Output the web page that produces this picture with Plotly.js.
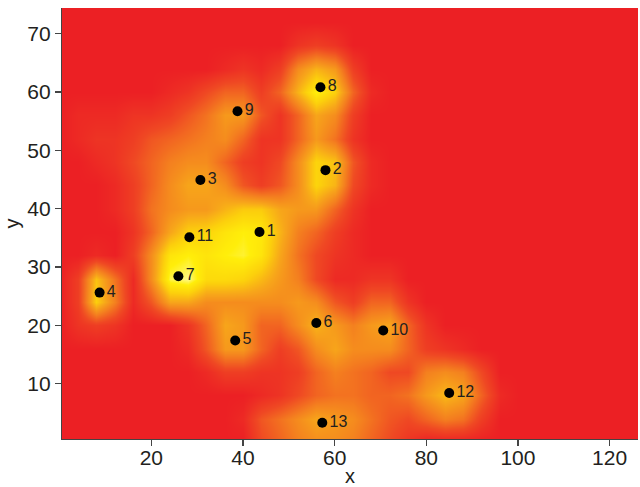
<!DOCTYPE html>
<html>
<head>
<meta charset="utf-8">
<script src="https://cdn.plot.ly/plotly-3.0.1.min.js"></script>
<style>html,body{margin:0;padding:0;background:#fff;}#chart{width:640px;height:487px;}</style>
</head>
<body>
<div id="chart"></div>
<script>
// Grid of the intensity surface (0 = red, 1 = pale yellow)
const gridX = [0,4,8,12,16,20,24,28,32,36,40,44,48,52,56,60,64,68,72,76,80,84,88,92,96,100,104,108,112,116,120,124,128];
const gridY = [0,4,8,12,16,20,24,28,32,36,40,44,48,52,56,60,64,68,72,76];
const zY0  = [0,0,0,0,0,0,0,0,0,0,0,0.2,0.3,0.4,0.45,0.45,0.4,0.3,0.2,0.1,0,0,0,0,0,0,0,0,0,0,0,0,0];
const zY4  = [0,0,0,0,0,0,0,0,0,0,0.05,0.25,0.35,0.45,0.55,0.5,0.45,0.35,0.25,0.2,0.3,0.4,0.35,0.15,0,0,0,0,0,0,0,0,0];
const zY8  = [0,0,0,0,0,0,0,0,0,0,0,0.05,0.1,0.2,0.3,0.35,0.35,0.3,0.3,0.35,0.5,0.62,0.55,0.3,0.05,0,0,0,0,0,0,0,0];
const zY12 = [0,0,0,0,0,0,0,0,0.05,0.15,0.15,0.1,0.1,0.15,0.3,0.4,0.35,0.3,0.2,0.2,0.4,0.45,0.4,0.2,0,0,0,0,0,0,0,0,0];
const zY16 = [0,0,0,0,0,0,0,0.05,0.25,0.5,0.5,0.3,0.15,0.25,0.45,0.55,0.45,0.45,0.45,0.3,0.15,0.1,0.05,0,0,0,0,0,0,0,0,0,0];
const zY20 = [0,0.1,0.15,0.1,0,0,0,0.1,0.3,0.55,0.5,0.3,0.3,0.45,0.6,0.5,0.4,0.5,0.55,0.3,0.1,0,0,0,0,0,0,0,0,0,0,0,0];
const zY24 = [0,0.15,0.7,0.4,0.05,0.25,0.55,0.55,0.45,0.45,0.45,0.45,0.45,0.5,0.45,0.25,0.15,0.3,0.3,0.1,0,0,0,0,0,0,0,0,0,0,0,0,0];
const zY28 = [0,0.15,0.65,0.35,0.05,0.45,0.9,0.95,0.75,0.75,0.72,0.62,0.5,0.4,0.2,0.05,0.05,0.1,0.1,0,0,0,0,0,0,0,0,0,0,0,0,0,0];
const zY32 = [0,0,0.05,0,0.15,0.45,0.8,0.85,0.8,0.85,0.88,0.8,0.55,0.35,0.2,0.1,0.05,0,0,0,0,0,0,0,0,0,0,0,0,0,0,0,0];
const zY36 = [0,0,0,0,0.1,0.3,0.55,0.7,0.72,0.8,0.85,0.82,0.6,0.4,0.3,0.15,0.05,0,0,0,0,0,0,0,0,0,0,0,0,0,0,0,0];
const zY40 = [0,0,0,0.05,0.15,0.35,0.45,0.5,0.5,0.6,0.68,0.68,0.55,0.5,0.5,0.3,0.1,0,0,0,0,0,0,0,0,0,0,0,0,0,0,0,0];
const zY44 = [0,0,0,0.05,0.15,0.3,0.45,0.55,0.55,0.45,0.25,0.15,0.25,0.45,0.72,0.6,0.2,0.05,0,0,0,0,0,0,0,0,0,0,0,0,0,0,0];
const zY48 = [0,0,0.05,0.1,0.2,0.3,0.4,0.45,0.45,0.3,0.15,0.1,0.2,0.45,0.72,0.65,0.25,0.05,0,0,0,0,0,0,0,0,0,0,0,0,0,0,0];
const zY52 = [0,0.05,0.1,0.1,0.15,0.25,0.3,0.35,0.4,0.45,0.3,0.1,0.1,0.3,0.5,0.35,0.1,0,0,0,0,0,0,0,0,0,0,0,0,0,0,0,0];
const zY56 = [0,0.05,0.05,0.05,0.1,0.1,0.15,0.25,0.35,0.5,0.5,0.25,0.1,0.3,0.55,0.45,0.15,0,0,0,0,0,0,0,0,0,0,0,0,0,0,0,0];
const zY60 = [0,0,0,0,0,0,0.05,0.1,0.2,0.3,0.3,0.15,0.3,0.6,0.85,0.7,0.3,0.05,0,0,0,0,0,0,0,0,0,0,0,0,0,0,0];
const zY64 = [0,0,0,0,0,0,0,0,0,0.05,0.1,0.05,0.15,0.45,0.6,0.5,0.15,0,0,0,0,0,0,0,0,0,0,0,0,0,0,0,0];
const zY68 = [0,0,0,0,0,0,0,0,0,0,0,0,0,0.1,0.15,0.1,0,0,0,0,0,0,0,0,0,0,0,0,0,0,0,0,0];
const zY72 = [0,0,0,0,0,0,0,0,0,0,0,0,0,0,0,0,0,0,0,0,0,0,0,0,0,0,0,0,0,0,0,0,0];
const zY76 = [0,0,0,0,0,0,0,0,0,0,0,0,0,0,0,0,0,0,0,0,0,0,0,0,0,0,0,0,0,0,0,0,0];

// Labelled sites
const siteLabels = ['1','2','3','4','5','6','7','8','9','10','11','12','13'];
const siteX = [43.6, 58.0, 30.7, 8.7, 38.3, 56.0, 25.9, 56.9, 38.8, 70.6, 28.3, 85.0, 57.3];
const siteY = [36.0, 46.6, 44.9, 25.6, 17.4, 20.4, 28.4, 60.8, 56.7, 19.1, 35.1, 8.4, 3.3];

const xTicks = [20, 40, 60, 80, 100, 120];
const yTicks = [10, 20, 30, 40, 50, 60, 70];

const zGrid = [zY0,zY4,zY8,zY12,zY16,zY20,zY24,zY28,zY32,zY36,zY40,zY44,zY48,zY52,zY56,zY60,zY64,zY68,zY72,zY76];

const colorscale = [
  [0.0, 'rgb(236,32,36)'],
  [0.2, 'rgb(239,72,35)'],
  [0.4, 'rgb(244,128,31)'],
  [0.55, 'rgb(247,165,26)'],
  [0.7, 'rgb(252,208,12)'],
  [0.85, 'rgb(255,238,10)'],
  [1.0, 'rgb(255,255,205)']
];

const font = 'Liberation Sans, Arial, Helvetica, sans-serif';

const traces = [
  {
    type: 'heatmap', x: gridX, y: gridY, z: zGrid,
    zmin: 0, zmax: 1, zsmooth: 'best', colorscale: colorscale,
    showscale: false, hoverinfo: 'skip'
  },
  {
    type: 'scatter', mode: 'markers+text', x: siteX, y: siteY, text: siteLabels,
    textposition: 'middle right',
    textfont: {family: font, size: 16, color: '#231f20'},
    marker: {color: '#000', size: 10},
    hoverinfo: 'skip', cliponaxis: false
  }
];

const axisBase = {
  showgrid: false, zeroline: false, showline: true, linecolor: '#444', linewidth: 1.2,
  ticks: 'outside', ticklen: 6, tickcolor: '#444', tickwidth: 1.2,
  tickfont: {family: font, size: 21, color: '#231f20'}
};

const layout = {
  width: 640, height: 487,
  margin: {l: 62, r: 2, t: 8, b: 48},
  paper_bgcolor: '#fff', plot_bgcolor: '#fff',
  showlegend: false,
  xaxis: Object.assign({}, axisBase, {
    range: [0.5, 126.2], tickvals: xTicks, ticklabelstandoff: -6,
    title: {text: 'x', font: {family: font, size: 20, color: '#231f20'}, standoff: 8}
  }),
  yaxis: Object.assign({}, axisBase, {
    range: [0.5, 74.4], tickvals: yTicks,
    title: {text: 'y', font: {family: font, size: 20, color: '#231f20'}, standoff: 2}
  })
};

Plotly.newPlot('chart', traces, layout, {displayModeBar: false, staticPlot: true});
</script>
</body>
</html>
